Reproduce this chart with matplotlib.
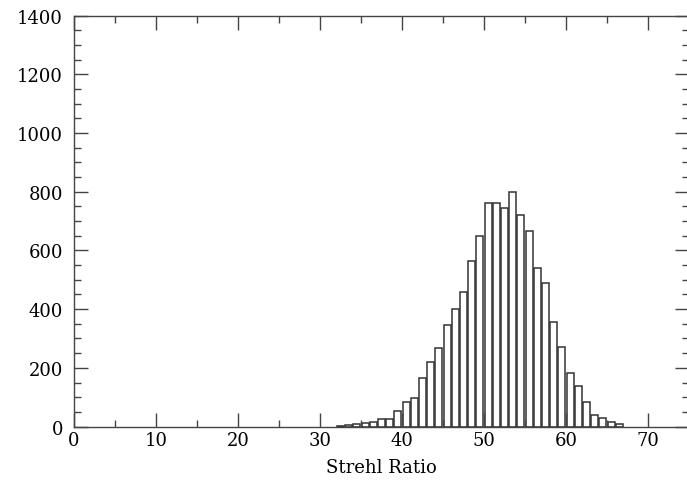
import numpy as np
import matplotlib
matplotlib.use('Agg')
import matplotlib.pyplot as plt
from matplotlib.ticker import MultipleLocator

# Histogram counts, one per unit bin starting at bin_start
bin_start = 32
counts = [3, 6, 8, 11, 14, 26, 26, 54, 82, 96,
          165, 219, 266, 346, 400, 457, 565, 648, 761, 761,
          745, 798, 722, 667, 539, 490, 357, 270, 182, 137,
          82, 39, 28, 14, 8]
x_label = 'Strehl Ratio'

edges = bin_start + np.arange(len(counts))

plt.rcParams['font.family'] = 'DejaVu Serif'
plt.rcParams['font.size'] = 13

fig = plt.figure(figsize=(6.87, 4.81), dpi=100)
ax = fig.add_axes([0.1077, 0.1112, 0.8952, 0.854])

ax.bar(edges + 0.5, counts, width=0.85, color='white',
       edgecolor='#333333', linewidth=1.1)

ax.set_xlim(0, 75)
ax.set_ylim(0, 1400)
ax.xaxis.set_major_locator(MultipleLocator(10))
ax.xaxis.set_minor_locator(MultipleLocator(5))
ax.yaxis.set_major_locator(MultipleLocator(200))
ax.yaxis.set_minor_locator(MultipleLocator(50))
ax.tick_params(which='both', direction='in', top=True, right=True,
               color='#444444', width=1)
ax.tick_params(which='major', length=10)
ax.tick_params(which='minor', length=5)
ax.tick_params(axis='y', which='major', pad=8)
ax.tick_params(axis='x', which='major', pad=3)

for s in ax.spines.values():
    s.set_color('#444444')
    s.set_linewidth(1)

ax.set_xlabel(x_label, labelpad=7)

fig.savefig('out.png', dpi=100)
